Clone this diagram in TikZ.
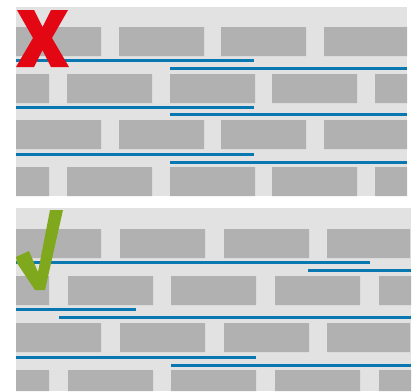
\documentclass[tikz,border=0pt]{standalone}
\usepackage{tikz}
\usepackage{xcolor}

\definecolor{wallbg}{HTML}{E2E2E2}
\definecolor{brick}{HTML}{B1B1B1}
\definecolor{rule}{HTML}{0A78B0}
\definecolor{wrongred}{HTML}{E30613}
\definecolor{rightgreen}{HTML}{80A81C}

\begin{document}
\begin{tikzpicture}[x=1pt,y=-1pt,line cap=butt,
  brickfill/.style={fill=brick},
  baseline/.style={draw=rule,line width=3pt}]
\useasboundingbox (0,0) rectangle (417,391);
% top panel: wrong
\fill[wallbg] (16,7) rectangle (407,196);
\fill[brickfill] (16,27) rectangle (101,56) (119,27) rectangle (204,56)
  (221,27) rectangle (306,56) (324,27) rectangle (407,56);
\fill[brickfill] (16,74) rectangle (49,103) (67,74) rectangle (152,103)
  (170,74) rectangle (255,103) (272,74) rectangle (357,103) (375,74) rectangle (407,103);
\fill[brickfill] (16,120) rectangle (101,149) (119,120) rectangle (204,149)
  (221,120) rectangle (306,149) (324,120) rectangle (407,149);
\fill[brickfill] (16,167) rectangle (49,196) (67,167) rectangle (152,196)
  (170,167) rectangle (255,196) (272,167) rectangle (357,196) (375,167) rectangle (407,196);
\draw[baseline] (16,60) -- (254,60);
\draw[baseline] (170,68) -- (407,68);
\draw[baseline] (16,107) -- (254,107);
\draw[baseline] (170,114) -- (407,114);
\draw[baseline] (16,154) -- (254,154);
\draw[baseline] (170,162) -- (407,162);
\fill[wrongred] (17,10) -- (34,10) -- (42.5,27) -- (51,10) -- (68,10) -- (52,38)
  -- (69,67) -- (51,67) -- (42.5,50) -- (34,67) -- (16,67) -- (33,38) -- cycle;
% bottom panel: right
\fill[wallbg] (16,208) rectangle (411,391);
\fill[brickfill] (16,229) rectangle (101,258) (120,229) rectangle (205,258)
  (224,229) rectangle (309,258) (327,229) rectangle (410,258);
\fill[brickfill] (16,276) rectangle (49,305) (68,276) rectangle (153,305)
  (171,276) rectangle (256,305) (275,276) rectangle (360,305) (379,276) rectangle (411,305);
\fill[brickfill] (16,323) rectangle (101,352) (120,323) rectangle (205,352)
  (224,323) rectangle (309,352) (327,323) rectangle (410,352);
\fill[brickfill] (16,370) rectangle (49,391) (68,370) rectangle (153,391)
  (171,370) rectangle (256,391) (275,370) rectangle (360,391) (379,370) rectangle (411,391);
\draw[baseline] (16,262) -- (370,262);
\draw[baseline] (308,270) -- (411,270);
\draw[baseline] (16,309) -- (136,309);
\draw[baseline] (59,317) -- (411,317);
\draw[baseline] (16,357) -- (256,357);
\draw[baseline] (171,365) -- (411,365);
\fill[rightgreen] (50,210) -- (63,210) -- (45,290) -- (35,290) -- (17,263)
  -- (16,257) -- (29,251) -- (38,272) -- cycle;
\end{tikzpicture}
\end{document}
